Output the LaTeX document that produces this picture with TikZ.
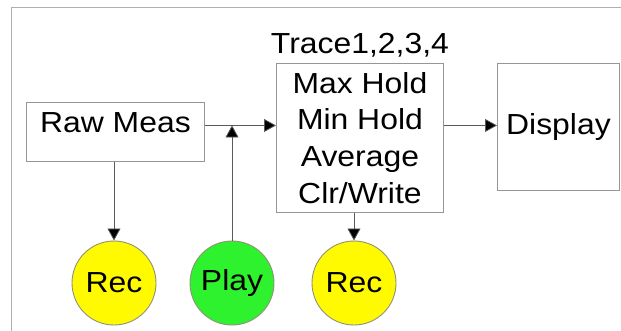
\documentclass[tikz,border=0pt]{standalone}
\usepackage{fontspec}
\setmainfont{Liberation Sans}[FakeStretch=1.1]
\usetikzlibrary{arrows.meta,positioning,calc}
\definecolor{recyellow}{RGB}{255, 250, 0}
\definecolor{playgreen}{RGB}{45, 242, 45}
\definecolor{boxgray}{RGB}{150,150,150}
\definecolor{linegray}{RGB}{90,90,90}
\definecolor{framegray}{RGB}{175,175,175}
\tikzset{
  % Blokklar
  blockbox/.style = {draw=boxgray, line width=0.9pt, rectangle, inner sep=0pt,
                     font=\fontsize{29}{36.7}\selectfont, align=center},
  % Doiralar
  recdot/.style   = {circle, draw=boxgray!80!olive, line width=0.9pt, fill=recyellow,
                     minimum size=84pt, inner sep=0pt, font=\fontsize{29}{34}\selectfont},
  playdot/.style  = {recdot, fill=playgreen},
  % Strelkalar
  flow/.style     = {draw=linegray, line width=0.8pt,
                     -{Triangle[width=13pt,length=12pt,fill=black]}},
}
\begin{document}
\begin{tikzpicture}[x=1pt, y=-1pt]
  \useasboundingbox (0,0) rectangle (621,330);
  % Ramka
  \draw[framegray, line width=0.9pt] (11,331) -- (11,7) -- (622,7);
  % Bloklar
  \node[blockbox, anchor=north west, minimum width=178pt, minimum height=59pt,
        text height=21pt, text depth=20pt] (raw) at (26,102) {Raw Meas};
  \node[blockbox, anchor=north west, minimum width=167pt, minimum height=149pt]
        (trace) at (276,63) {Max Hold\\Min Hold\\Average\\Clr/Write};
  \node[above=2pt of trace, font=\fontsize{29}{34}\selectfont] (tracetitle) {Trace1,2,3,4};
  \node[blockbox, anchor=north west, minimum width=122pt, minimum height=127pt]
        (display) at (497,63) {Display};
  % Doiralar
  \node[recdot]  (rec1) at (114,283) {Rec};
  \node[playdot] (play) at (232,283) {Play};
  \node[recdot]  (rec2) at (354,283) {Rec};
  % Ulanishlar
  \coordinate (mid) at ([yshift=6.5pt]raw.east);
  \draw[flow] (mid) -- (mid -| trace.west);
  \draw[flow] (play.north) -- (play.north |- mid);
  \draw[flow] (trace.east |- mid) -- (display.west |- mid);
  \draw[flow] (raw.south -| rec1.north) -- (rec1.north);
  \draw[flow] (rec2.north |- trace.south) -- (rec2.north);
\end{tikzpicture}
\end{document}
